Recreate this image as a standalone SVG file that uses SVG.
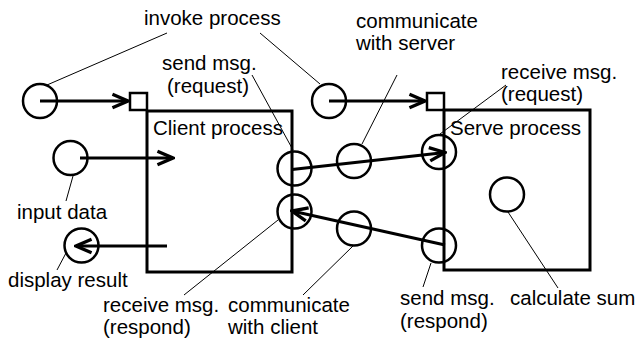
<svg xmlns="http://www.w3.org/2000/svg" width="638" height="338" viewBox="0 0 638 338">
<style>
text{font-family:"Liberation Sans",Arial,sans-serif;font-size:20.5px;fill:#000}
.c{fill:none;stroke:#000;stroke-width:2.5}
.b{fill:none;stroke:#000;stroke-width:3}
.a{fill:none;stroke:#000;stroke-width:3;marker-end:url(#ah)}
.l{fill:none;stroke:#000;stroke-width:1}
</style>
<defs>
<marker id="ah" markerUnits="userSpaceOnUse" markerWidth="20" markerHeight="20" viewBox="-16 -8 18 16" refX="0" refY="0" orient="auto">
<path d="M-14,-6 L0,0 L-14,6" fill="none" stroke="#000" stroke-width="3"/>
</marker>
</defs>
<g id="client-process">
<rect class="b" x="147" y="111" width="145" height="161"/>
<rect class="c" x="130" y="93" width="17" height="17"/>
<text x="153" y="135">Client process</text>
</g>
<g id="server-process">
<rect class="b" x="444" y="110" width="146" height="160"/>
<rect class="c" x="427" y="93" width="17" height="17"/>
<text x="450" y="135">Serve process</text>
</g>
<g id="invoke-client"><circle class="c" cx="40" cy="101" r="17"/></g>
<g id="invoke-server"><circle class="c" cx="329" cy="101" r="17"/></g>
<g id="input-data"><circle class="c" cx="70.5" cy="158" r="17"/><text x="17" y="219">input data</text></g>
<g id="display-result"><circle class="c" cx="81.5" cy="245.5" r="17"/><text x="8" y="287">display result</text></g>
<g id="send-request"><circle class="c" cx="294.5" cy="168.5" r="17"/><text x="162" y="70">send msg.</text><text x="167" y="93">(request)</text></g>
<g id="receive-respond"><circle class="c" cx="294.5" cy="211.5" r="17"/><text x="103" y="312">receive msg.</text><text x="103" y="334">(respond)</text></g>
<g id="communicate-server"><circle class="c" cx="354" cy="161" r="17"/><text x="356" y="28">communicate</text><text x="356" y="50">with server</text></g>
<g id="communicate-client"><circle class="c" cx="354" cy="228.5" r="17"/><text x="228" y="312">communicate</text><text x="228" y="334">with client</text></g>
<g id="receive-request"><circle class="c" cx="439" cy="152" r="17"/><text x="501" y="79">receive msg.</text><text x="501" y="101">(request)</text></g>
<g id="send-respond"><circle class="c" cx="439" cy="245.5" r="17"/><text x="400" y="305">send msg.</text><text x="400" y="328">(respond)</text></g>
<g id="calculate-sum"><circle class="c" cx="507" cy="194.5" r="17"/><text x="510" y="305">calculate sum</text></g>
<g id="invoke-label"><text x="144" y="25">invoke process</text></g>
<g id="connectors">
<line class="a" x1="40" y1="101" x2="128" y2="101"/>
<line class="a" x1="329" y1="101" x2="425" y2="101"/>
<line class="a" x1="80" y1="158" x2="173" y2="158"/>
<line class="a" x1="167" y1="246" x2="76" y2="246"/>
<line class="a" x1="292" y1="169.5" x2="445" y2="152.5"/>
<line class="a" x1="445" y1="245" x2="292" y2="211"/>
<line class="l" x1="167" y1="33" x2="47" y2="85"/>
<line class="l" x1="260" y1="33" x2="320" y2="84"/>
<line class="l" x1="73" y1="176" x2="66" y2="201"/>
<line class="l" x1="66" y1="253" x2="57" y2="270"/>
<line class="l" x1="252" y1="75" x2="293" y2="150"/>
<line class="l" x1="397" y1="75" x2="362" y2="144"/>
<line class="l" x1="506" y1="85" x2="440" y2="134"/>
<line class="l" x1="278" y1="220" x2="184" y2="295"/>
<line class="l" x1="353" y1="246" x2="303" y2="295"/>
<line class="l" x1="431" y1="263" x2="423" y2="287"/>
<line class="l" x1="508" y1="212" x2="558" y2="288"/>
</g>
</svg>
